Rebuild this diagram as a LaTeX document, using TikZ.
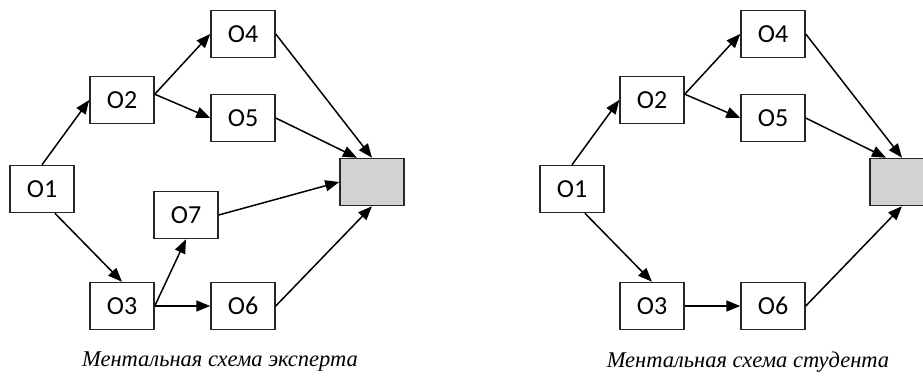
\documentclass[tikz,border=0pt]{standalone}
\usepackage{fontspec}
\setmainfont{Carlito}
\newfontfamily\capfont{Liberation Serif}
\usetikzlibrary{arrows.meta, positioning}

\begin{document}
\begin{tikzpicture}[x=1pt, y=-1pt]
\tikzstyle{taskb}=[rectangle, draw=black!85, line width=1.5pt, minimum width=64pt, minimum height=47pt, fill=white, inner sep=0pt, font=\fontsize{26}{30}\selectfont]
\tikzstyle{taskg}=[taskb, fill=gray!35]
\tikzstyle{link}=[line width=1.5pt, -{Triangle[length=14pt, width=11pt]}]
\tikzstyle{capt}=[font=\capfont\itshape\fontsize{22.5}{26}\selectfont]
\useasboundingbox (0,0) rectangle (923,379);
\fill[white] (0,0) rectangle (923,379);
%% expert
\node (o1) at (42,189) [taskb] {O1};
\node (o2) at (122,100) [taskb] {O2};
\node (o3) at (122,306) [taskb] {O3};
\node (o4) at (243,34) [taskb] {O4};
\node (o5) at (243,118) [taskb] {O5};
\node (o6) at (243,306) [taskb] {O6};
\node (o7) at (186,215) [taskb] {O7};
\node (g) at (372,182) [taskg] {};

\draw [link] (o1.north) -- (o2.west);
\draw [link] (o1.-62) -- (o3.north);
\draw [link] (o2.10) -- (o4.west);
\draw [link] (o2.10) -- (o5.west);
\draw [link] (o3.east) -- (o7.south);
\draw [link] (o3.east) -- (o6.west);
\draw [link] (o4.east) -- (g.north);
\draw [link] (o5.east) -- ([xshift=-15pt]g.north);
\draw [link] (o7.east) -- (g.west);
\draw [link] (o6.east) -- (g.south);

\node (c1) at (220,362) [capt] {Ментальная схема эксперта};

%% student
\begin{scope}[xshift=530pt]
\node (s1) at (42,189) [taskb] {O1};
\node (s2) at (122,100) [taskb] {O2};
\node (s3) at (122,306) [taskb] {O3};
\node (s4) at (243,34) [taskb] {O4};
\node (s5) at (243,118) [taskb] {O5};
\node (s6) at (243,306) [taskb] {O6};
\node (sg) at (372,182) [taskg] {};

\draw [link] (s1.north) -- (s2.west);
\draw [link] (s1.-62) -- (s3.north);
\draw [link] (s2.10) -- (s4.west);
\draw [link] (s2.10) -- (s5.west);
\draw [link] (s3.east) -- (s6.west);
\draw [link] (s4.east) -- (sg.north);
\draw [link] (s5.east) -- ([xshift=-16pt]sg.north);
\draw [link] (s6.east) -- (sg.south);

\node (c2) at (218,362) [capt] {Ментальная схема студента};
\end{scope}
\end{tikzpicture}
\end{document}
